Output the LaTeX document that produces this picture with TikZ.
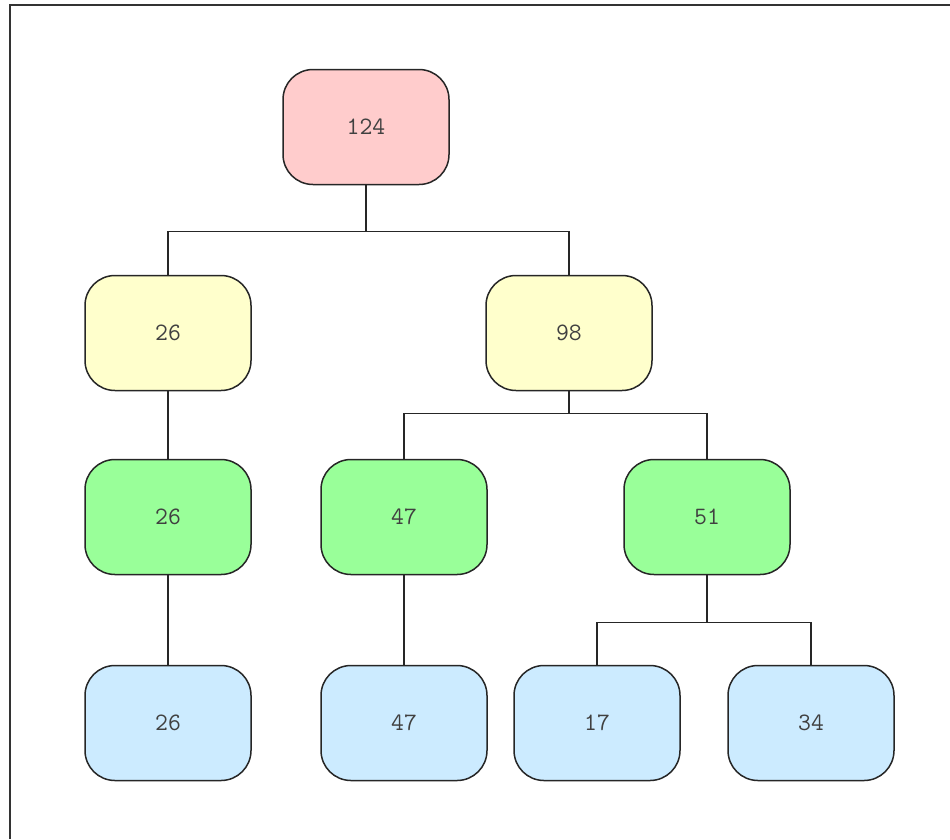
\documentclass[tikz,border=0pt]{standalone}
\begin{document}
\begin{tikzpicture}[x=1pt,y=-1pt,
  treebox/.style={draw=black!85, line width=1.5pt, rectangle, rounded corners=30pt,
    minimum width=166pt, minimum height=115pt, inner sep=0pt,
    font=\ttfamily\fontsize{25}{29}\selectfont, text=black!75},
  rootbox/.style={treebox, fill=rootpink},
  sumbox/.style={treebox, fill=sumyellow},
  midbox/.style={treebox, fill=midgreen},
  leafbox/.style={treebox, fill=leafblue},
  link/.style={draw=black!85, line width=1.1pt}]
\definecolor{rootpink}{HTML}{FFCCCC}
\definecolor{sumyellow}{HTML}{FFFFCC}
\definecolor{midgreen}{HTML}{99FF99}
\definecolor{leafblue}{HTML}{CCEBFF}
\useasboundingbox (0,0) rectangle (950,839);
% frame: top and left edges
\draw[black!80, line width=1.6pt] (10,839) -- (10,5) -- (950,5);

% tree nodes
\node[rootbox] (root) at (366,127) {124};
\node[sumbox]  (s26)  at (168,333) {26};
\node[sumbox]  (s98)  at (569,333) {98};
\node[midbox]  (m26)  at (168,517) {26};
\node[midbox]  (m47)  at (404,517) {47};
\node[midbox]  (m51)  at (707,517) {51};
\node[leafbox] (l26)  at (168,723) {26};
\node[leafbox] (l47)  at (404,723) {47};
\node[leafbox] (l17)  at (597,723) {17};
\node[leafbox] (l34)  at (811,723) {34};

% connectors
\draw[link] (root.south) -- ++(0,46) -| (s26.north);
\draw[link] (root.south) -- ++(0,46) -| (s98.north);
\draw[link] (s26.south) -- (m26.north);
\draw[link] (s98.south) -- ++(0,22) -| (m47.north);
\draw[link] (s98.south) -- ++(0,22) -| (m51.north);
\draw[link] (m26.south) -- (l26.north);
\draw[link] (m47.south) -- (l47.north);
\draw[link] (m51.south) -- ++(0,47) -| (l17.north);
\draw[link] (m51.south) -- ++(0,47) -| (l34.north);
\end{tikzpicture}
\end{document}
